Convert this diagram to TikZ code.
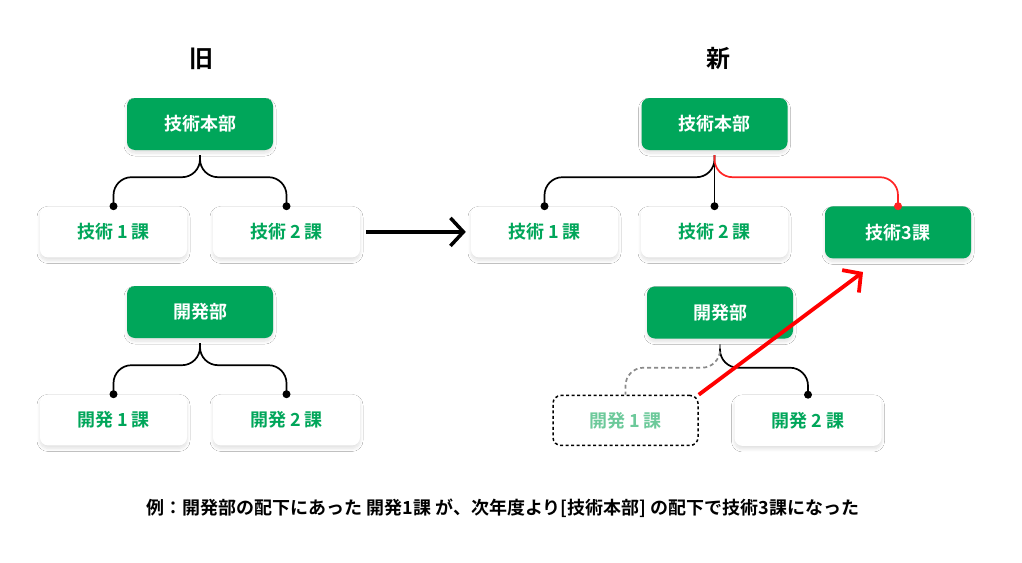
\documentclass[tikz,border=0pt]{standalone}
\usepackage{fontspec}
\setmainfont{Noto Sans CJK JP}[BoldFont={Noto Sans CJK JP Bold}]
\usepackage{tikz}
\usepackage{xcolor}
\usetikzlibrary{positioning,arrows.meta}
\usetikzlibrary{shadows.blur}
\definecolor{bgreen}{HTML}{00A65A}
\definecolor{paleg}{HTML}{6CC99A}
\definecolor{linered}{HTML}{FF2424}
\definecolor{dashgray}{HTML}{8A8A8A}
\tikzset{
    soft/.style={blur shadow={shadow xshift=0pt, shadow yshift=-3pt,
        shadow blur radius=3pt, shadow blur steps=8, shadow opacity=12}},
    dept/.style={rounded corners=8pt, fill=bgreen, text=white,
        minimum width=146pt, minimum height=52pt,
        font=\bfseries\fontsize{18}{20}\selectfont, soft},
    sect/.style={rounded corners=8pt, fill=white, text=bgreen,
        minimum width=147pt, minimum height=51pt,
        font=\bfseries\fontsize{18}{20}\selectfont, soft},
    ghost/.style={rounded corners=8pt, fill=white, text=paleg, draw=black,
        line width=1.5pt, dash pattern=on 3pt off 2.5pt,
        minimum width=145pt, minimum height=50pt,
        font=\bfseries\fontsize{18}{20}\selectfont},
    title/.style={font=\bfseries\fontsize{24}{26}\selectfont},
    brace/.style={line width=1.7pt, rounded corners=18pt},
    bigarrow/.style={line width=3.5pt, -{Straight Barb[length=13pt,width=28pt]}},
}
\begin{document}
\begin{tikzpicture}[x=1pt,y=-1pt,node distance=56pt and 26pt]
    \fill[white] (0,0) rectangle (1022,562);
    % old
    \node[title] (oldt) at (201,59) {旧};
    \node[dept] (ogk) at (200,124) {技術本部};
    \node[sect] (og1) [below=of ogk, xshift=-86.5pt] {技術 1 課};
    \node[sect] (og2) [below=of ogk, xshift=86.5pt]  {技術 2 課};
    \node[dept] (okh) at (200,312) {開発部};
    \node[sect] (ok1) [below=of okh, xshift=-86.5pt] {開発 1 課};
    \node[sect] (ok2) [below=of okh, xshift=86.5pt]  {開発 2 課};
    \draw[brace] ([yshift=-5pt]ogk.south) |- ([yshift=29pt]og1.north) -- (og1.north);
    \draw[brace] ([yshift=-5pt]ogk.south) |- ([yshift=29pt]og2.north) -- (og2.north);
    \draw[brace] ([yshift=-5pt]okh.south) |- ([yshift=29pt]ok1.north) -- (ok1.north);
    \draw[brace] ([yshift=-5pt]okh.south) |- ([yshift=29pt]ok2.north) -- (ok2.north);
    \foreach \n in {og1,og2,ok1,ok2}
        \fill (\n.north) circle (4pt);
    % new
    \node[title] (newt) at (718,59) {新};
    \node[dept] (ngk) at (714.5,124) {技術本部};
    \node[sect] (ng1) [below=of ngk, xshift=-170pt] {技術 1 課};
    \node[sect] (ng2) [below=of ngk]                {技術 2 課};
    \node[dept] (ng3) [below=of ngk, xshift=183.5pt] {技術3課};
    \node[dept] (nkh) at (720,312.5) {開発部};
    \node[ghost] (nk1) [below=of nkh, xshift=-94.5pt] {開発 1 課};
    \node[sect] (nk2) [below=of nkh, xshift=88pt]    {開発 2 課};
    \draw[brace] ([yshift=-5pt]ngk.south) |- ([yshift=29pt]ng1.north) -- (ng1.north);
    \draw[brace] ([yshift=-5pt]ngk.south) -- (ng2.north);
    \draw[brace, linered] ([yshift=-5pt]ngk.south) |- ([yshift=29pt]ng3.north) -- (ng3.north);
    \draw[brace] ([yshift=-6pt]nkh.south) |- ([yshift=27pt]nk2.north) -- (nk2.north);
    \draw[brace, dashgray, dash pattern=on 4pt off 3pt] ([yshift=-6pt]nkh.south) |- ([yshift=27pt]nk1.north) -- (nk1.north);
    \foreach \n in {ng1,ng2,nk2}
        \fill (\n.north) circle (4pt);
    \fill[linered] (ng3.north) circle (4pt);
    % moves
    \draw[bigarrow, shorten <=6pt, shorten >=5pt] (og2.east) -- (ng1.west);
    \coordinate (hit) at (863,272);
    \draw[bigarrow, red, line width=3.8pt] (nk1.north east) -- (hit);
    % note
    \node[font=\bfseries\fontsize{18}{20}\selectfont] (note) at (503,508)
        {例：開発部の配下にあった 開発1課 が、次年度より[技術本部] の配下で技術3課になった};
\end{tikzpicture}
\end{document}
